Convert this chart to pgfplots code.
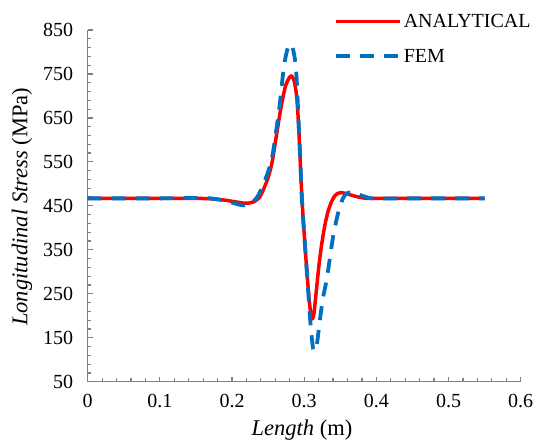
\documentclass[border=0pt]{standalone}
\usepackage{pgfplots}
\pgfplotsset{compat=1.18}
\usepackage{fontspec}
\setmainfont{Liberation Serif}
\usetikzlibrary{calc}
\definecolor{axgray}{RGB}{128,128,128}
\definecolor{femblue}{RGB}{0,112,192}
\definecolor{anared}{RGB}{255,0,0}
\begin{document}
\begin{tikzpicture}
\begin{axis}[
  name=ax,
  scale only axis, width=433pt, height=351.7pt,
  xmin=0, xmax=0.6, ymin=50, ymax=850,
  xtick={0,0.1,0.2,0.3,0.4,0.5,0.6},
  ytick={50,150,250,350,450,550,650,750,850},
  minor tick num=4,
  axis lines*=left,
  axis line style={draw=axgray, line width=1.5pt},
  tick align=inside,
  major tick length=5pt, minor tick length=3.5pt,
  tick style={draw=axgray, line width=1.2pt},
  tick label style={font=\fontsize{20}{23}\selectfont, black},
  /pgf/number format/assume math mode=true,
  xticklabel style={yshift=-9pt},
  yticklabel style={xshift=-11pt},
  xlabel={\textit{Length} (m)},
  ylabel={\textit{Longitudinal Stress} (MPa)},
  label style={font=\fontsize{22.5}{26}\selectfont},
  xlabel style={at={(axis description cs:0.495,-0.137)}, anchor=center},
  ylabel style={at={(axis description cs:-0.152,0.497)}, anchor=center},
  legend style={at={(axis description cs:1.028,1.051)}, anchor=north east,
    draw=none, fill=none, font=\fontsize{20}{23}\selectfont, row sep=16pt,
    inner sep=0pt},
  legend cell align=left,
  legend image code/.code={\draw[#1] (0pt,0pt) -- (64pt,0pt);},
]
\addplot[anared, line width=3.5pt, smooth, tension=0.45] coordinates {
(0,467) (0.05,467) (0.10,467) (0.15,467) (0.17,466) (0.19,463) (0.205,459)
(0.218,456) (0.228,458) (0.238,469) (0.248,505) (0.255,545) (0.262,615)
(0.268,675) (0.274,722) (0.2795,742) (0.2826,745) (0.286,735) (0.2895,700)
(0.292,640) (0.294,570) (0.2965,480) (0.299,410) (0.3035,305) (0.307,235)
(0.3095,200) (0.3116,194) (0.3135,205) (0.317,260) (0.3205,315) (0.324,360)
(0.3285,405) (0.333,437) (0.338,460) (0.3425,473) (0.3475,479) (0.352,480)
(0.36,477) (0.3726,471) (0.3864,467) (0.40,467) (0.45,467) (0.50,467) (0.55,467)
};
\addlegendentry{ANALYTICAL}
\addplot[femblue, line width=3.8pt, dash pattern=on 14pt off 10pt, smooth, tension=0.45] coordinates {
(0,467) (0.05,467) (0.10,467) (0.15,468) (0.17,467) (0.19,462) (0.205,455)
(0.2155,451) (0.225,455) (0.235,470) (0.245,505) (0.255,556) (0.262,630)
(0.2663,683) (0.270,740) (0.273,778) (0.2765,805) (0.280,818) (0.2835,812)
(0.287,785) (0.2895,740) (0.292,650) (0.2945,560) (0.2965,475) (0.299,410)
(0.3035,305) (0.3079,200) (0.3105,150) (0.3125,125) (0.315,120) (0.318,140)
(0.3217,190) (0.326,240) (0.331,281) (0.3355,330) (0.340,380) (0.345,420)
(0.3494,448) (0.354,468) (0.3587,478) (0.365,481) (0.3726,478) (0.380,473)
(0.386,470) (0.395,467) (0.45,467) (0.55,467)
};
\addlegendentry{FEM}
\end{axis}
\pgfresetboundingbox
\path[use as bounding box] ($(ax.south west)+(-87.7pt,-61.3pt)$) rectangle ($(ax.north east)+(15.3pt,30pt)$);
\end{tikzpicture}
\end{document}
